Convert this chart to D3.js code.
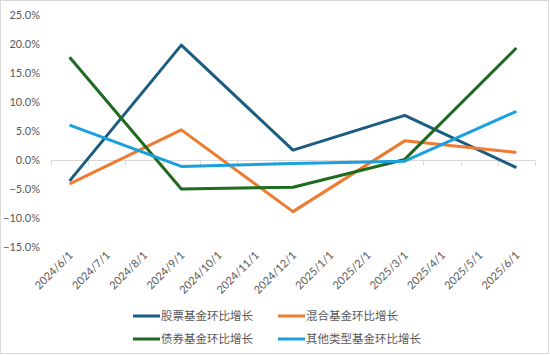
<!DOCTYPE html>
<html><head><meta charset="utf-8">
<script src="https://cdn.jsdelivr.net/npm/d3@7/dist/d3.min.js"></script>
<style>html,body{margin:0;padding:0;background:#fff;}svg{display:block;}</style>
</head><body>
<svg id="chart" width="550" height="355"></svg>
<script>
const categories = ["2024/6/1","2024/7/1","2024/8/1","2024/9/1","2024/10/1","2024/11/1","2024/12/1","2025/1/1","2025/2/1","2025/3/1","2025/4/1","2025/5/1","2025/6/1"];
const seriesNames = ["股票基金环比增长","混合基金环比增长","债券基金环比增长","其他类型基金环比增长"];
const stockValues = [-3.6,null,null,19.8,null,null,1.7,null,null,7.7,null,null,-1.3];
const mixedValues = [-4.1,null,null,5.2,null,null,-8.9,null,null,3.3,null,null,1.3];
const bondValues  = [17.7,null,null,-5.0,null,null,-4.7,null,null,0.1,null,null,19.3];
const otherValues = [6.0,null,null,-1.1,null,null,-0.6,null,null,-0.2,null,null,8.4];
const yTicks = [-15,-10,-5,0,5,10,15,20,25];
const colors = ["#1A5D80","#EE7B30","#1D6B1F","#1AA0DE"];

const svg = d3.select("#chart");
svg.append("rect").attr("x",0.5).attr("y",0.5).attr("width",548).attr("height",353)
  .attr("fill","#fff").attr("stroke","#d9d9d9");

const x = d3.scaleBand().domain(categories).range([51,535]);
const y = d3.scaleLinear().domain([-15,25]).range([247,15]);
const font = "Lato, 'Noto Sans', sans-serif";

// y labels
svg.append("g").selectAll("text").data(yTicks).join("text")
  .attr("x",40).attr("y",d=>y(d)).attr("dy","0.35em").attr("text-anchor","end")
  .attr("font-family",font).attr("font-size",11).attr("fill","#595959")
  .text(d=>d3.format(".1f")(d)+"%");

// category axis at 0
const y0 = Math.round(y(0))+0.5;
svg.append("line").attr("x1",51).attr("x2",535).attr("y1",y0).attr("y2",y0)
  .attr("stroke","#d9d9d9").attr("stroke-width",1);
const bounds = categories.map(c=>x(c)).concat([x.range()[1]]);
svg.append("g").selectAll("line").data(bounds).join("line")
  .attr("x1",d=>Math.round(d)+0.5).attr("x2",d=>Math.round(d)+0.5)
  .attr("y1",y0).attr("y2",y0+5).attr("stroke","#d9d9d9");

// x labels
svg.append("g").selectAll("text").data(categories).join("text")
  .attr("transform",d=>`translate(${x(d)+x.bandwidth()/2+4},256) rotate(-45)`)
  .attr("text-anchor","end").attr("font-family",font).attr("font-size",11).attr("fill","#595959")
  .text(d=>d);

// lines
const all = [stockValues,mixedValues,bondValues,otherValues];
const line = d3.line().x(d=>x(d.c)+x.bandwidth()/2).y(d=>y(d.v));
all.forEach((vals,i)=>{
  const pts = vals.map((v,j)=>({c:categories[j],v})).filter(d=>d.v!==null);
  svg.append("path").datum(pts).attr("d",line).attr("fill","none")
    .attr("stroke",colors[i]).attr("stroke-width",3).attr("stroke-linejoin","round");
});

// legend
const legPos = [[133,316],[278,316],[133,339],[278,339]];
seriesNames.forEach((n,i)=>{
  const [lx,ly] = legPos[i];
  svg.append("line").attr("x1",lx).attr("x2",lx+27).attr("y1",ly).attr("y2",ly)
    .attr("stroke",colors[i]).attr("stroke-width",3);
  svg.append("text").attr("x",lx+28).attr("y",ly).attr("dy","0.35em")
    .attr("font-family","'Noto Sans CJK SC', sans-serif").attr("font-size",11.5).attr("fill","#595959")
    .text(n);
});
</script>
</body></html>
